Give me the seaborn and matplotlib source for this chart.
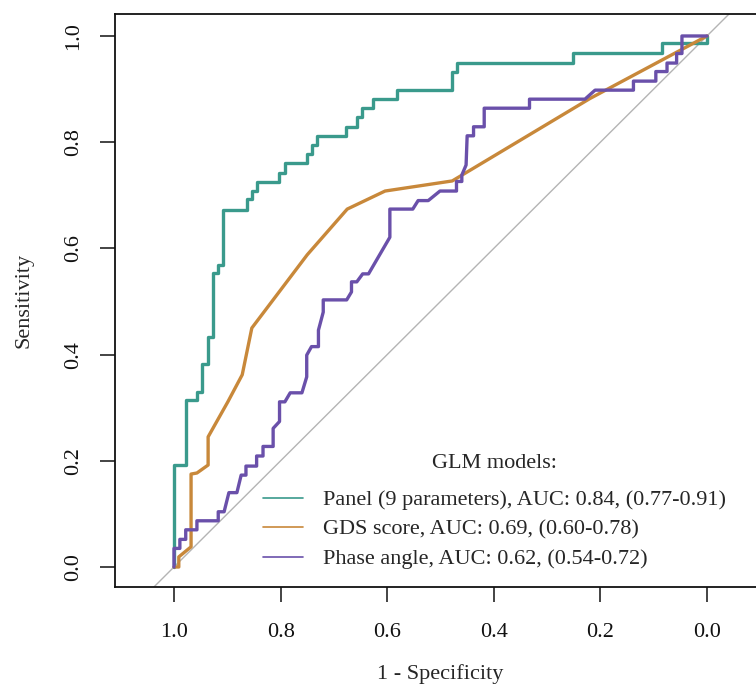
import numpy as np
import pandas as pd
import matplotlib
matplotlib.use("Agg")
import matplotlib.pyplot as plt
import seaborn as sns

# ROC curves (x = specificity, y = sensitivity), read off the reference
# Panel: step corners, drawn with steps-post
panel_spec = [1.0, 1.0, 0.978, 0.957, 0.947, 0.937, 0.926, 0.917, 0.908, 0.863, 0.854,
              0.844, 0.803, 0.792, 0.750, 0.741, 0.732, 0.677, 0.657, 0.647, 0.627,
              0.582, 0.478, 0.469, 0.251, 0.084, 0.0]
panel_sens = [0.0, 0.192, 0.315, 0.330, 0.382, 0.434, 0.554, 0.569, 0.672, 0.693, 0.708,
              0.725, 0.742, 0.761, 0.778, 0.795, 0.812, 0.829, 0.847, 0.864, 0.881,
              0.898, 0.932, 0.949, 0.968, 0.987, 1.0]

# GDS score: vertices
gds_spec = [1.0, 0.991, 0.991, 0.968, 0.968, 0.957, 0.936, 0.936, 0.899, 0.872, 0.854,
            0.750, 0.675, 0.604, 0.478, 0.220, 0.0]
gds_sens = [0.0, 0.0, 0.019, 0.038, 0.175, 0.177, 0.192, 0.245, 0.311, 0.362, 0.450,
            0.588, 0.674, 0.708, 0.727, 0.882, 1.0]

# Phase angle: vertices
phase_spec = [1.0, 1.0, 0.989, 0.989, 0.978, 0.978, 0.957, 0.957, 0.917, 0.917, 0.906,
              0.897, 0.882, 0.874, 0.865, 0.865, 0.845, 0.845, 0.833, 0.833, 0.814,
              0.814, 0.802, 0.802, 0.792, 0.782, 0.760, 0.751, 0.751, 0.742, 0.729,
              0.729, 0.720, 0.720, 0.676, 0.667, 0.667, 0.657, 0.646, 0.635, 0.595,
              0.595, 0.552, 0.542, 0.523, 0.501, 0.470, 0.470, 0.460, 0.460, 0.452,
              0.450, 0.438, 0.438, 0.418, 0.418, 0.333, 0.333, 0.229, 0.210, 0.138,
              0.138, 0.096, 0.096, 0.075, 0.075, 0.057, 0.057, 0.047, 0.047, 0.0]
phase_sens = [0.0, 0.035, 0.035, 0.052, 0.052, 0.070, 0.070, 0.087, 0.087, 0.104, 0.104,
              0.140, 0.140, 0.173, 0.173, 0.190, 0.190, 0.209, 0.209, 0.227, 0.227,
              0.261, 0.274, 0.311, 0.311, 0.328, 0.328, 0.358, 0.399, 0.415, 0.415,
              0.446, 0.480, 0.503, 0.503, 0.518, 0.537, 0.537, 0.552, 0.552, 0.621,
              0.674, 0.674, 0.690, 0.690, 0.708, 0.708, 0.726, 0.726, 0.738, 0.757,
              0.812, 0.812, 0.829, 0.829, 0.864, 0.864, 0.881, 0.881, 0.898, 0.898,
              0.915, 0.915, 0.933, 0.933, 0.949, 0.949, 0.967, 0.967, 1.0, 1.0]

labels = ["Panel (9 parameters), AUC: 0.84, (0.77-0.91)",
          "GDS score, AUC: 0.69, (0.60-0.78)",
          "Phase angle, AUC: 0.62, (0.54-0.72)"]
colours = ["#3a9a8c", "#c8883a", "#6a50aa"]
ticks = [0.0, 0.2, 0.4, 0.6, 0.8, 1.0]

sns.set_style("ticks")
plt.rcParams["font.family"] = ["Liberation Serif", "DejaVu Serif"]

fig = plt.figure(figsize=(7.56, 6.88), dpi=100)
ax = fig.add_axes([115 / 756, 101 / 688, 651 / 756, 573 / 688])

ax.axline((1, 0), (0, 1), color="#b4b4b4", lw=1.0, zorder=1)

sns.lineplot(x=panel_spec, y=panel_sens, sort=False, estimator=None, ax=ax,
             color=colours[0], lw=2.4, drawstyle="steps-post", label=labels[0], zorder=3)
sns.lineplot(x=gds_spec, y=gds_sens, sort=False, estimator=None, ax=ax,
             color=colours[1], lw=2.4, label=labels[1], zorder=3)
sns.lineplot(x=phase_spec, y=phase_sens, sort=False, estimator=None, ax=ax,
             color=colours[2], lw=2.4, label=labels[2], zorder=3)

ax.set_xlim(1.1107, -0.1107)
ax.set_ylim(-0.0377, 1.0414)
ax.set_xticks(ticks)
ax.set_yticks(ticks)
ax.set_xticklabels([f"{t:.1f}" for t in ticks])
ax.set_yticklabels([f"{t:.1f}" for t in ticks], rotation=90, va="center")
ax.tick_params(length=11, width=1.1, direction="out", labelsize=16, pad=12, colors="#111111")
ax.tick_params(axis="x", pad=15)
for s in ax.spines.values():
    s.set_linewidth(1.3)
    s.set_color("#111111")

ax.set_xlabel("1 - Specificity", fontsize=16, labelpad=16)
ax.set_ylabel("Sensitivity", fontsize=16, labelpad=22)

leg = ax.legend(title="GLM models:", loc="lower right", bbox_to_anchor=(0.969, -0.004),
                frameon=False, fontsize=16, title_fontsize=16, handlelength=1.8,
                handletextpad=0.9, labelspacing=0.4)
leg._legend_box.sep = 12
for line in leg.get_lines():
    line.set_linewidth(1.2)

fig.savefig("out.png", dpi=100)
